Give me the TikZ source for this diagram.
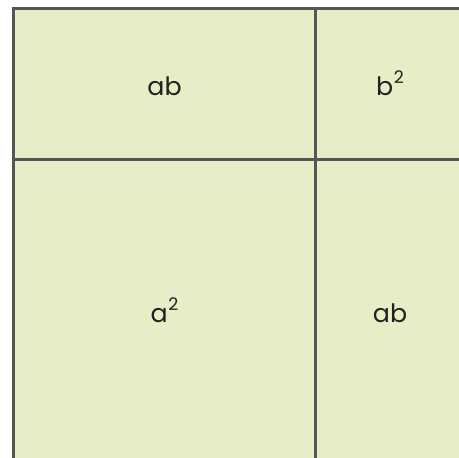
\documentclass[tikz,border=0pt]{standalone}
\usepackage{fontspec}
\setmainfont{Poppins}
\definecolor{LGn}{RGB}{231,237,198}
\definecolor{DG}{RGB}{85,85,85}
\definecolor{TX}{RGB}{34,34,34}
\newcommand{\sqr}{\hspace{0.6pt}\raisebox{8.5pt}{\fontsize{13}{13}\selectfont 2}}
\begin{document}
\begin{tikzpicture}[
  x=0.75pt, y=-0.75pt,
  grid/.style={draw=DG, line width=2.4pt},
  lbl/.style={font=\fontsize{19}{22}\selectfont, text=TX, anchor=base, inner sep=0pt}
]
\useasboundingbox (0,0) rectangle (459,457);
\clip (0,0) rectangle (459,457);
% Square a+b
\fill[LGn] (12,7) rectangle (490,490);
\coordinate (tl) at (13.5,8.5);
\coordinate (vt) at (315.5,8.5);
\coordinate (vb) at (315.5,490);
\coordinate (hl) at (13.5,159.5);
\coordinate (hr) at (490,159.5);
\draw[grid] (13.5,490) -- (tl) -- (490,8.5);
\draw[grid] (vt) -- (vb);
\draw[grid] (hl) -- (hr);
% Areas
\node[lbl] (abtop) at (164.5,95) {ab};
\node[lbl] (bsq)   at (390,95)   {b\sqr};
\node[lbl] (asq)   at (164.5,322) {a\sqr};
\node[lbl] (abbot) at (390,322)  {ab};
\end{tikzpicture}
\end{document}
